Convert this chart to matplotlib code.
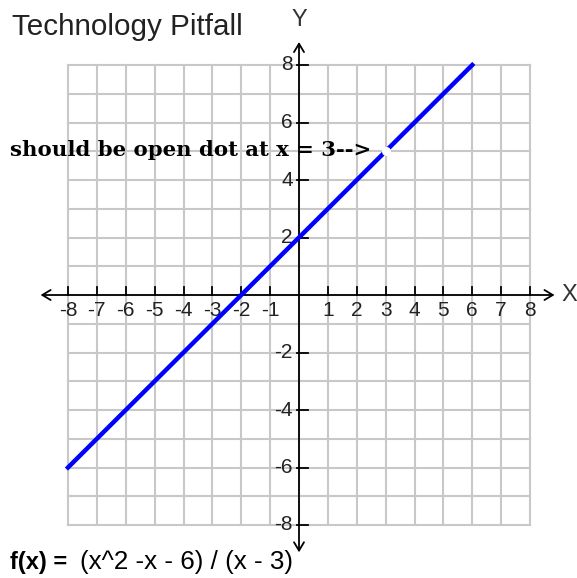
import numpy as np
import matplotlib.pyplot as plt

# f(x) = (x^2 - x - 6) / (x - 3)  ->  x + 2 with a hole at x = 3
x_ends = [-8, 6]
y_ends = [-6, 8]
hole_x = 3
hole_y = 5
x_ticks = list(range(-8, 9))
y_ticks = [-8, -6, -4, -2, 2, 4, 6, 8]
title_text = "Technology Pitfall"
note_text = "should be open dot at x = 3-->"
formula_lhs = "f(x) ="
formula_rhs = "(x^2 -x - 6) / (x - 3)"

W, H = 577, 578
fig = plt.figure(figsize=(W / 100, H / 100), dpi=100)
# plot area spans the grid box
ax = fig.add_axes([68 / W, 1 - 525 / H, 462 / W, 460 / H])
ax.set_xlim(-8, 8)
ax.set_ylim(-8, 8)
for s in ax.spines.values():
    s.set_visible(False)
ax.set_xticks([])
ax.set_yticks([])

# light grid
for g in range(-8, 9):
    ax.plot([g, g], [-8, 8], color='#c8c8c8', lw=1.5, zorder=1, clip_on=False)
    ax.plot([-8, 8], [g, g], color='#c8c8c8', lw=1.5, zorder=1, clip_on=False)

# axes with arrows
ax.annotate('', xy=(8.85, 0), xytext=(-8.95, 0),
            arrowprops=dict(arrowstyle='<->,head_length=0.5,head_width=0.3',
                            color='black', lw=1.3, mutation_scale=12,
                            shrinkA=0, shrinkB=0),
            annotation_clip=False, zorder=3)
ax.annotate('', xy=(0, 8.8), xytext=(0, -8.95),
            arrowprops=dict(arrowstyle='<->,head_length=0.5,head_width=0.3',
                            color='black', lw=1.3, mutation_scale=12,
                            shrinkA=0, shrinkB=0),
            annotation_clip=False, zorder=3)

# tick marks and labels
for t in x_ticks:
    if t == 0:
        continue
    ax.plot([t, t], [0, 0.28], color='black', lw=1.3, zorder=3, clip_on=False)
    ax.text(t, -0.2, str(t), ha='center', va='top', fontsize=15,
            family='Liberation Sans', color='#222222', zorder=4)
for t in y_ticks:
    ax.plot([-0.08, 0.3], [t, t], color='black', lw=1.3, zorder=3, clip_on=False)
    ax.text(-0.22, t, str(t), ha='right', va='center', fontsize=15,
            family='Liberation Sans', color='#222222', zorder=4)

ax.text(9.35, 0, 'X', ha='center', va='center', fontsize=17,
        family='Liberation Sans', color='#333333')
ax.text(0, 9.55, 'Y', ha='center', va='center', fontsize=17,
        family='Liberation Sans', color='#333333')

# the function and the missing point
ax.plot(x_ends, y_ends, color='#0000ff', lw=3.2, zorder=5, clip_on=False)
ax.plot([hole_x], [hole_y], 'o', color='white', markersize=6.5,
        markeredgewidth=0, zorder=6)

# captions
fig.text(12 / W, 1 - 35 / H, title_text, ha='left', va='baseline',
         fontsize=21.3, family='Liberation Sans', color='#222222')
fig.text(10 / W, 1 - 156 / H, note_text, ha='left', va='baseline',
         fontsize=15.3, family='DejaVu Serif', weight='bold', zorder=4)
fig.text(10 / W, 1 - 569 / H, formula_lhs, ha='left', va='baseline',
         fontsize=17, family='Liberation Sans', weight='bold')
fig.text(80 / W, 1 - 569 / H, formula_rhs, ha='left', va='baseline',
         fontsize=18.7, family='Liberation Sans')

fig.savefig('out.png', dpi=100)
